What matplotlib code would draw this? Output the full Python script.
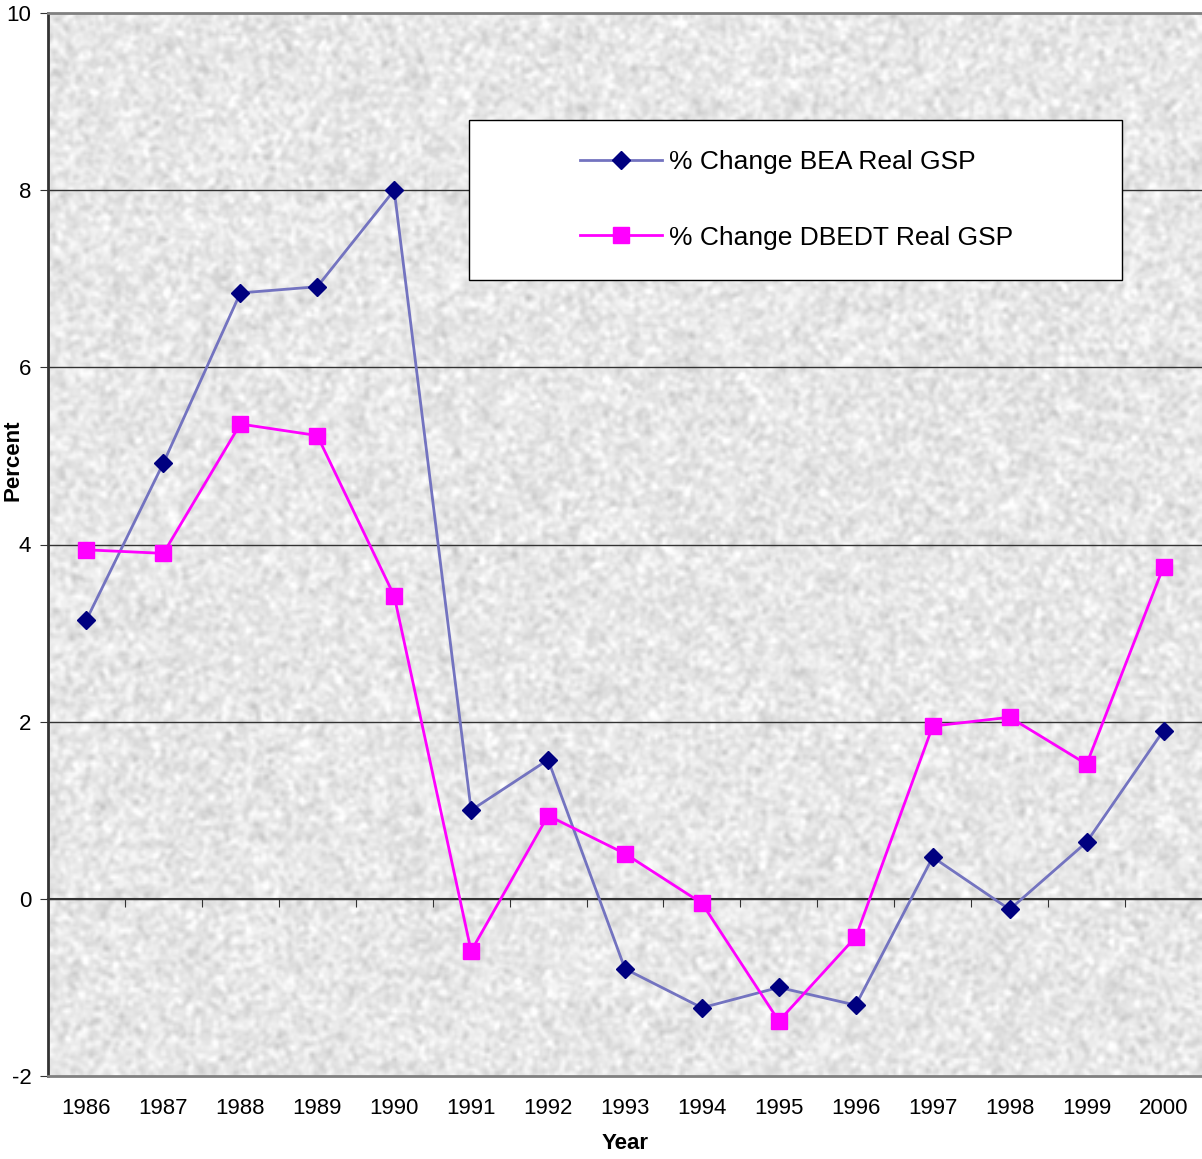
import numpy as np
import matplotlib
matplotlib.use("Agg")
import matplotlib.pyplot as plt
from matplotlib.patches import Rectangle

years = ["1986", "1987", "1988", "1989", "1990", "1991", "1992", "1993",
         "1994", "1995", "1996", "1997", "1998", "1999", "2000"]
bea = [3.15, 4.92, 6.84, 6.91, 8.0, 1.0, 1.57, -0.79, -1.23, -1.0, -1.2,
       0.47, -0.12, 0.64, 1.9]
dbedt = [3.94, 3.9, 5.36, 5.23, 3.42, -0.59, 0.94, 0.51, -0.05, -1.38,
         -0.43, 1.95, 2.05, 1.52, 3.75]
y_ticks = [-2, 0, 2, 4, 6, 8, 10]

plt.rcParams['font.family'] = ['Liberation Sans', 'DejaVu Sans']

fig = plt.figure(figsize=(12.02, 11.59), dpi=100)
ax = fig.add_axes([48 / 1202, 1 - 1076 / 1159, 1154 / 1202, (1076 - 13) / 1159])

x = np.arange(len(years))
ax.set_xlim(-0.5, len(years) - 0.5)
ax.set_ylim(-2, 10)

# textured gray background (decoration only)
rng = np.random.default_rng(3)
tex = rng.normal(0, 1, (420, 460))
k = np.array([1, 2, 1], float)
k /= k.sum()
tex = np.apply_along_axis(lambda r: np.convolve(r, k, mode='same'), 1, tex)
tex = np.apply_along_axis(lambda c: np.convolve(c, k, mode='same'), 0, tex)
tex = 0.905 + 0.035 * tex / tex.std()
ax.imshow(tex, cmap='gray', vmin=0, vmax=1, extent=(-0.5, len(years) - 0.5, -2, 10),
          aspect='auto', interpolation='bilinear', zorder=0)

for t in y_ticks[1:-1]:
    ax.axhline(t, color='#333333', lw=1, zorder=1)

ax.plot(x, bea, color='#7373c0', lw=2, marker='D', ms=9, mfc='#000080',
        mec='#000080', zorder=3, label='% Change BEA Real GSP')
ax.plot(x, dbedt, color='#ff00ff', lw=2, marker='s', ms=11, mfc='#ff00ff',
        mec='#ff00ff', zorder=3, label='% Change DBEDT Real GSP')

ax.set_yticks(y_ticks)
ax.set_yticklabels([str(t) for t in y_ticks], fontsize=16)
ax.tick_params(axis='y', direction='out', length=6, color='#333333', pad=6)

ax.set_xticks(x)
ax.set_xticklabels(years, fontsize=16)
ax.tick_params(axis='x', length=0, pad=16)

for side in ['top', 'bottom']:
    ax.spines[side].set_color('#808080')
    ax.spines[side].set_linewidth(2)
ax.spines['right'].set_visible(False)
ax.spines['left'].set_color('#333333')
ax.spines['left'].set_linewidth(2)

# category axis crossing at zero with ticks between categories
sec = ax.secondary_xaxis(2 / 12)
sec.set_xticks(np.arange(0.5, len(years) - 0.5, 1.0))
sec.set_xticklabels([])
sec.tick_params(direction='out', length=6, color='#333333')
sec.spines['bottom'].set_color('#333333')
sec.spines['bottom'].set_linewidth(1.5)

ax.set_xlabel('Year', fontsize=16, fontweight='bold', labelpad=10)
ax.set_ylabel('Percent', fontsize=16, fontweight='bold')
ax.yaxis.set_label_coords(-24 / 1154, 1 - (460 - 13) / 1063)

# legend box
bx0, by0 = (469 - 48) / 1154, 1 - (280 - 13) / 1063
bw, bh = (1122 - 469) / 1154, (280 - 120) / 1063
ax.add_patch(Rectangle((bx0, by0), bw, bh, transform=ax.transAxes,
                       facecolor='white', edgecolor='black', lw=1, zorder=5))
leg = ax.legend(loc='center left',
                bbox_to_anchor=((580 - 48) / 1154, 1 - (200 - 13) / 1063),
                fontsize=19, frameon=False, borderpad=0, borderaxespad=0,
                labelspacing=1.95, handlelength=3.1, handletextpad=0.28)
leg.set_zorder(6)

fig.savefig('out.png', dpi=100)
